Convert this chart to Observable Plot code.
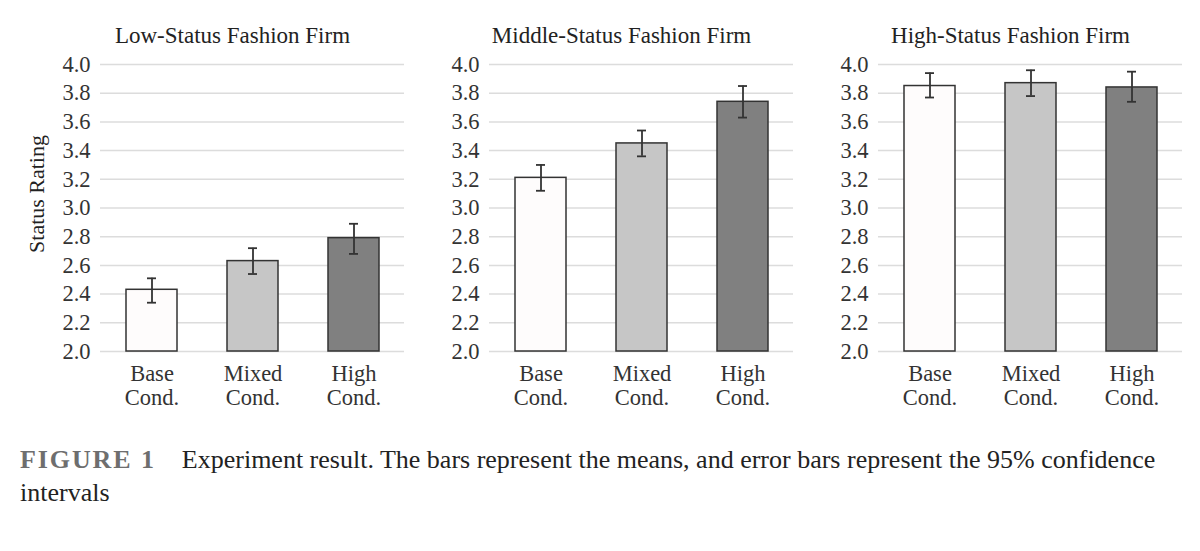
<!DOCTYPE html>
<html>
<head>
<meta charset="utf-8">
<script src="https://cdn.jsdelivr.net/npm/d3@7"></script>
<script src="https://cdn.jsdelivr.net/npm/@observablehq/plot@0.6"></script>
<style>
  html, body { margin: 0; padding: 0; background: #fff; }
  #wrap { position: relative; width: 1200px; height: 551px; overflow: hidden; }
  .panel { position: absolute; top: 0; }
  #caption { position: absolute; left: 20px; top: 443px; width: 1175px; white-space: nowrap;
    font-family: "Liberation Serif", "Times New Roman", serif; font-size: 26px; color: #222; line-height: 33px; }
  #caption .fig { font-weight: bold; color: #6e6e6e; letter-spacing: 1.9px; margin-right: 26px; }
</style>
</head>
<body>
<div id="wrap">
  <div id="p0" class="panel" style="left:0px"></div>
  <div id="p1" class="panel" style="left:419px"></div>
  <div id="p2" class="panel" style="left:808px"></div>
  <div id="caption"><span class="fig">FIGURE 1</span>Experiment result. The bars represent the means, and error bars represent the 95% confidence<br>intervals</div>
</div>
<script>
const panels = ["Low-Status Fashion Firm", "Middle-Status Fashion Firm", "High-Status Fashion Firm"];
const conditions = ["Base Cond.", "Mixed Cond.", "High Cond."];
const fills = ["#fefcfc", "#c6c6c6", "#808080"];
const means = [
  [2.43, 2.63, 2.79],
  [3.21, 3.45, 3.74],
  [3.85, 3.87, 3.84]
];
const lower = [
  [2.34, 2.54, 2.68],
  [3.12, 3.36, 3.63],
  [3.77, 3.78, 3.74]
];
const upper = [
  [2.51, 2.72, 2.89],
  [3.30, 3.54, 3.85],
  [3.94, 3.96, 3.95]
];
const yTicks = [2.0, 2.2, 2.4, 2.6, 2.8, 3.0, 3.2, 3.4, 3.6, 3.8, 4.0];

const font = "Liberation Serif, Times New Roman, serif";

panels.forEach((title, p) => {
  const data = conditions.map((c, i) => ({cond: c, mean: means[p][i], lo: lower[p][i], hi: upper[p][i], fill: fills[i]}));
  const ml = p === 0 ? 100 : 70;
  const marks = [
    Plot.ruleY(yTicks, {stroke: "#dcdcdc", strokeWidth: 1.5}),
    Plot.barY(data, {x: "cond", y1: 2, y2: "mean", fill: "fill", stroke: "#333", strokeWidth: 1.5}),
    Plot.ruleX(data, {x: "cond", y1: "lo", y2: "hi", stroke: "#333", strokeWidth: 1.8}),
    Plot.tickY(data, {x: "cond", y: "lo", stroke: "#333", strokeWidth: 1.8, inset: 21}),
    Plot.tickY(data, {x: "cond", y: "hi", stroke: "#333", strokeWidth: 1.8, inset: 21}),
    Plot.axisY({ticks: yTicks, tickFormat: d3.format(".1f"), tickSize: 0, tickPadding: 10, fontSize: 22.5, fill: "#333", label: null}),
    Plot.axisX({tickSize: 0, tickPadding: 12, fontSize: 22.5, fill: "#333", lineHeight: 1.08, label: null,
      tickFormat: d => d.replace(" ", "\n")}),
    Plot.text([title], {frameAnchor: "top", dx: -20, dy: -22, lineAnchor: "bottom", fontSize: 23, fill: "#222"})
  ];
  if (p === 0) {
    marks.push(Plot.text(["Status Rating"], {frameAnchor: "left", textAnchor: "middle", rotate: -90, dx: -64, dy: -14, fontSize: 22, fill: "#222"}));
  }
  const chart = Plot.plot({
    width: ml + 304 + 15,
    height: 420,
    marginLeft: ml,
    marginRight: 15,
    marginTop: 64,
    marginBottom: 69,
    style: {fontFamily: font, background: "transparent", overflow: "visible"},
    x: {domain: conditions, paddingInner: 0.5, paddingOuter: 0.25, label: null},
    y: {domain: [2, 4], label: null},
    color: {type: "identity"},
    marks
  });
  document.getElementById("p" + p).appendChild(chart);
});
</script>
</body>
</html>
